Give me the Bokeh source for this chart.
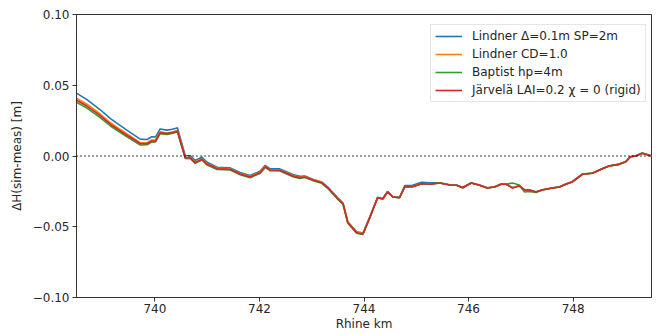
from bokeh.plotting import figure
from bokeh.models import FixedTicker, CustomJSTickFormatter, Legend, LegendItem, Range1d, Span
from bokeh.embed import file_html
from bokeh.resources import INLINE

km = [738.50, 738.70, 738.96, 739.15, 739.34, 739.49, 739.72, 739.85, 739.94, 740.01,
      740.10, 740.23, 740.33, 740.39, 740.43, 740.58, 740.68, 740.77, 740.90, 740.99,
      741.19, 741.44, 741.63, 741.82, 742.01, 742.11, 742.20, 742.39, 742.64, 742.77,
      742.87, 743.02, 743.19, 743.31, 743.48, 743.60, 743.69, 743.86, 743.98, 744.11,
      744.26, 744.36, 744.45, 744.55, 744.68, 744.78, 744.93, 745.10, 745.26, 745.45,
      745.64, 745.77, 745.89, 746.05, 746.21, 746.36, 746.50, 746.62, 746.72, 746.84,
      746.97, 747.07, 747.16, 747.29, 747.41, 747.58, 747.74, 747.86, 747.98, 748.18,
      748.37, 748.56, 748.69, 748.88, 749.01, 749.10, 749.20, 749.32, 749.39, 749.50]

lindner_sp = [0.0444, 0.0398, 0.0325, 0.0264, 0.0215, 0.0176, 0.0119, 0.0117, 0.0136, 0.0134,
              0.0191, 0.0183, 0.0189, 0.0195, 0.0199, 0.0003, 0.0001, -0.0032, -0.0008, -0.0042,
              -0.0080, -0.0084, -0.0117, -0.0138, -0.0108, -0.0066, -0.0089, -0.0091, -0.0131, -0.0143,
              -0.0142, -0.0164, -0.0183, -0.0220, -0.0289, -0.0333, -0.0465, -0.0536, -0.0545, -0.0430,
              -0.0291, -0.0300, -0.0250, -0.0286, -0.0291, -0.0209, -0.0207, -0.0186, -0.0190, -0.0189,
              -0.0203, -0.0205, -0.0222, -0.0189, -0.0205, -0.0224, -0.0217, -0.0198, -0.0198, -0.0224,
              -0.0210, -0.0238, -0.0238, -0.0252, -0.0238, -0.0226, -0.0217, -0.0198, -0.0182, -0.0127,
              -0.0120, -0.0088, -0.0069, -0.0057, -0.0038, -0.0003, 0.0002, 0.0021, 0.0014, 0.0002]

lindner_cd = [0.0408, 0.0366, 0.0295, 0.0235, 0.0187, 0.0150, 0.0095, 0.0094, 0.0113, 0.0112,
              0.0171, 0.0163, 0.0170, 0.0176, 0.0181, -0.0009, -0.0011, -0.0044, -0.0020, -0.0054,
              -0.0087, -0.0091, -0.0124, -0.0145, -0.0115, -0.0073, -0.0096, -0.0098, -0.0138, -0.0150,
              -0.0145, -0.0167, -0.0186, -0.0223, -0.0292, -0.0336, -0.0468, -0.0539, -0.0548, -0.0433,
              -0.0295, -0.0304, -0.0254, -0.0290, -0.0295, -0.0219, -0.0217, -0.0196, -0.0200, -0.0191,
              -0.0205, -0.0207, -0.0224, -0.0191, -0.0207, -0.0226, -0.0219, -0.0200, -0.0200, -0.0222,
              -0.0210, -0.0244, -0.0242, -0.0254, -0.0240, -0.0228, -0.0219, -0.0200, -0.0184, -0.0129,
              -0.0122, -0.0090, -0.0071, -0.0059, -0.0040, -0.0005, 0.0000, 0.0019, 0.0012, 0.0000]

baptist = [0.0379, 0.0339, 0.0270, 0.0212, 0.0166, 0.0131, 0.0078, 0.0079, 0.0098, 0.0099,
           0.0158, 0.0152, 0.0159, 0.0166, 0.0172, -0.0017, -0.0019, -0.0052, -0.0028, -0.0062,
           -0.0095, -0.0099, -0.0132, -0.0153, -0.0123, -0.0081, -0.0104, -0.0106, -0.0146, -0.0158,
           -0.0152, -0.0174, -0.0193, -0.0230, -0.0299, -0.0343, -0.0475, -0.0546, -0.0555, -0.0440,
           -0.0295, -0.0304, -0.0254, -0.0290, -0.0295, -0.0219, -0.0217, -0.0196, -0.0200, -0.0191,
           -0.0205, -0.0207, -0.0224, -0.0191, -0.0207, -0.0226, -0.0219, -0.0200, -0.0200, -0.0191,
           -0.0205, -0.0254, -0.0250, -0.0258, -0.0240, -0.0228, -0.0219, -0.0200, -0.0184, -0.0129,
           -0.0122, -0.0090, -0.0071, -0.0059, -0.0040, -0.0005, 0.0000, 0.0019, 0.0012, 0.0000]

jarvela = [0.0394, 0.0353, 0.0283, 0.0224, 0.0177, 0.0141, 0.0087, 0.0087, 0.0106, 0.0106,
           0.0165, 0.0158, 0.0165, 0.0172, 0.0177, -0.0012, -0.0014, -0.0047, -0.0023, -0.0057,
           -0.0090, -0.0094, -0.0127, -0.0148, -0.0118, -0.0076, -0.0099, -0.0101, -0.0141, -0.0153,
           -0.0148, -0.0170, -0.0189, -0.0226, -0.0295, -0.0339, -0.0471, -0.0542, -0.0551, -0.0436,
           -0.0295, -0.0304, -0.0254, -0.0290, -0.0295, -0.0219, -0.0217, -0.0196, -0.0200, -0.0191,
           -0.0205, -0.0207, -0.0224, -0.0191, -0.0207, -0.0226, -0.0219, -0.0200, -0.0200, -0.0226,
           -0.0212, -0.0240, -0.0240, -0.0254, -0.0240, -0.0228, -0.0219, -0.0200, -0.0184, -0.0129,
           -0.0122, -0.0090, -0.0071, -0.0059, -0.0040, -0.0005, 0.0000, 0.0019, 0.0012, 0.0000]

series_names = ["Lindner \u0394=0.1m SP=2m", "Lindner CD=1.0", "Baptist hp=4m",
                "J\u00e4rvel\u00e4 LAI=0.2 \u03c7 = 0 (rigid)"]
series_values = [lindner_sp, lindner_cd, baptist, jarvela]
colors = ["#1f77b4", "#ff7f0e", "#2ca02c", "#d62728"]

x_ticks = [740, 742, 744, 746, 748]
y_ticks = [-0.10, -0.05, 0.00, 0.05, 0.10]

FONT = "DejaVu Sans"
TXT = "#262626"
FS = "12px"

p = figure(width=656, height=335, output_backend="svg", toolbar_location=None,
           x_range=Range1d(738.5, 749.5), y_range=Range1d(-0.10, 0.10),
           min_border_left=76, min_border_right=5, min_border_top=14, min_border_bottom=38)
p.grid.visible = False
p.outline_line_color = "#333333"
p.outline_line_width = 1
p.background_fill_color = "white"
p.border_fill_color = "white"

zero = Span(location=0, dimension="width", line_color="black", line_width=1.3, line_dash="1 3")
p.add_layout(zero)

renderers = []
for vals, c in zip(series_values, colors):
    r = p.line(km, vals, line_color=c, line_width=1.6)
    renderers.append(r)

items = [LegendItem(label=n, renderers=[r]) for n, r in zip(series_names, renderers)]
legend = Legend(items=items, location=(354, 195))
legend.label_text_font = FONT
legend.label_text_font_size = FS
legend.label_text_color = TXT
legend.glyph_width = 27
legend.glyph_height = 14
legend.label_height = 14
legend.label_standoff = 10
legend.spacing = 4
legend.padding = 4
legend.border_line_color = "#cccccc"
legend.border_line_width = 1
legend.background_fill_alpha = 0.8
p.add_layout(legend, "center")

for ax in (p.xaxis[0], p.yaxis[0]):
    ax.axis_line_color = "#333333"
    ax.major_tick_line_color = "#333333"
    ax.major_tick_out = 4
    ax.major_tick_in = 0
    ax.minor_tick_line_color = None
    ax.major_label_text_font = FONT
    ax.major_label_text_font_size = FS
    ax.major_label_text_color = TXT
    ax.axis_label_text_font = FONT
    ax.axis_label_text_font_size = FS
    ax.axis_label_text_font_style = "normal"
    ax.axis_label_text_color = TXT

p.xaxis.ticker = FixedTicker(ticks=x_ticks)
p.yaxis.ticker = FixedTicker(ticks=y_ticks)
p.xaxis.formatter = CustomJSTickFormatter(code="return tick.toFixed(0);")
p.yaxis.formatter = CustomJSTickFormatter(code="return tick.toFixed(2).replace('-', '\\u2212');")
p.xaxis.axis_label = "Rhine km"
p.yaxis.axis_label = "\u0394H(sim-meas) [m]"
p.xaxis.axis_label_standoff = 1
p.yaxis.axis_label_standoff = 6
p.xaxis.major_label_standoff = 2
p.yaxis.major_label_standoff = 3

open("out.html", "w").write(file_html(p, INLINE))
